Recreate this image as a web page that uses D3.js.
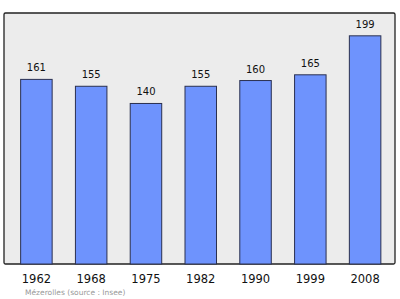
<!DOCTYPE html>
<html>
<head>
<meta charset="utf-8">
<script src="https://cdn.jsdelivr.net/npm/d3@7"></script>
<style>
  body { margin: 0; background: #fff; }
  text { font-family: "DejaVu Sans", sans-serif; }
</style>
</head>
<body>
<div class="canvas"></div>
<script>
const years = ['1962', '1968', '1975', '1982', '1990', '1999', '2008']
const population = [161, 155, 140, 155, 160, 165, 199]

const dimension = { width: 400, height: 299 }
const frame = { left: 4, top: 13, right: 395, bottom: 264 }

const svg = d3.select('.canvas')
  .append('svg')
  .attr('width', dimension.width)
  .attr('height', dimension.height)

// plot background + border
svg.append('rect')
  .attr('x', frame.left)
  .attr('y', frame.top)
  .attr('width', frame.right - frame.left)
  .attr('height', frame.bottom - frame.top)
  .attr('rx', 1.5)
  .attr('fill', '#ececec')
  .attr('stroke', '#222')
  .attr('stroke-width', 1.3)

const x = d3.scaleBand()
  .domain(years)
  .range([9, 392.5])
  .paddingInner(0.425)
  .paddingOuter(0.2125)

const y = d3.scaleLinear()
  .domain([0, d3.max(population) * 1.1])
  .range([frame.bottom, frame.top])

const data = years.map((yr, i) => ({ year: yr, value: population[i] }))

const graph = svg.append('g')

graph.selectAll('rect.bar')
  .data(data)
  .enter()
  .append('rect')
    .attr('class', 'bar')
    .attr('x', d => x(d.year))
    .attr('y', d => y(d.value))
    .attr('width', x.bandwidth())
    .attr('height', d => y(0) - y(d.value))
    .attr('fill', '#6e93fd')
    .attr('stroke', '#2a3050')
    .attr('stroke-width', 1)

// value labels above bars
graph.selectAll('text.val')
  .data(data)
  .enter()
  .append('text')
    .attr('class', 'val')
    .attr('x', d => x(d.year) + x.bandwidth() / 2)
    .attr('y', d => y(d.value) - 8)
    .attr('text-anchor', 'middle')
    .attr('font-size', 10)
    .attr('fill', '#111')
    .text(d => d.value)

// x axis labels
const xAxis = d3.axisBottom(x).tickSize(0).tickPadding(0)
const axisG = svg.append('g')
  .attr('transform', `translate(0, ${frame.bottom})`)
  .call(xAxis)
axisG.select('.domain').remove()
axisG.selectAll('text')
  .attr('y', 19)
  .attr('dy', 0)
  .attr('font-size', 11.5)
  .attr('font-family', '"DejaVu Sans", sans-serif')
  .attr('fill', '#111')

// credit line
svg.append('text')
  .attr('x', 25)
  .attr('y', 295)
  .attr('font-size', 7.5)
  .attr('fill', '#999')
  .text('Mézerolles    (source : Insee)')
</script>
</body>
</html>
